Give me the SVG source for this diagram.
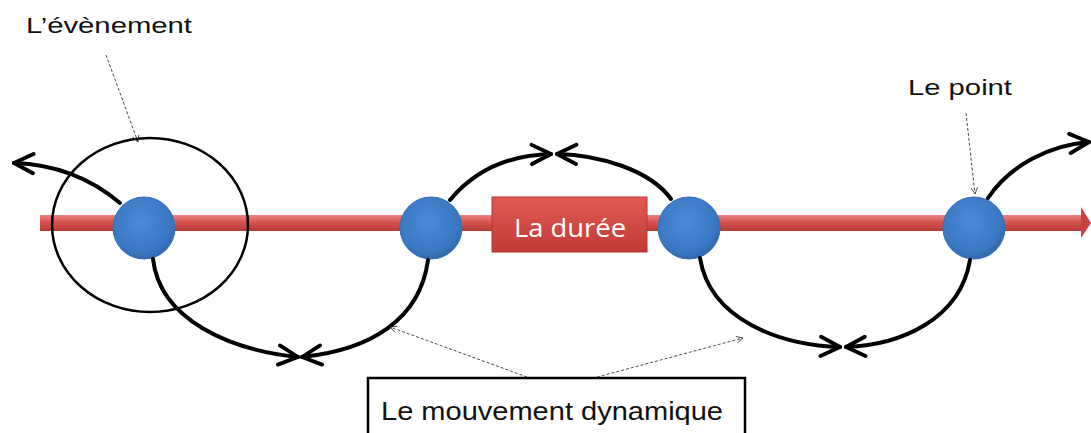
<svg xmlns="http://www.w3.org/2000/svg" width="1091" height="433" viewBox="0 0 1091 433">
<defs>
<linearGradient id="barG" x1="0" y1="0" x2="0" y2="1">
<stop offset="0" stop-color="#e98585"/>
<stop offset="0.45" stop-color="#d9534f"/>
<stop offset="1" stop-color="#b23a36"/>
</linearGradient>
<radialGradient id="nodeG" cx="0.45" cy="0.4" r="0.6">
<stop offset="0" stop-color="#4a8ad8"/>
<stop offset="0.8" stop-color="#3b78c4"/>
<stop offset="1" stop-color="#2f68ad"/>
</radialGradient>
<linearGradient id="boxG" x1="0" y1="0" x2="0" y2="1">
<stop offset="0" stop-color="#e05a55"/>
<stop offset="1" stop-color="#c23b37"/>
</linearGradient>
<marker id="thick" viewBox="0 0 10 10" markerWidth="6" markerHeight="6" refX="9" refY="5" orient="auto" markerUnits="strokeWidth">
<path d="M1,1 L9,5 L1,9" fill="none" stroke="#000" stroke-width="1.6" stroke-linecap="round" stroke-linejoin="round"/>
</marker>
<marker id="thin" viewBox="0 0 10 10" markerWidth="9" markerHeight="9" refX="9" refY="5" orient="auto" markerUnits="strokeWidth">
<path d="M1,1 L9,5 L1,9" fill="none" stroke="#333" stroke-width="1"/>
</marker>
<style>
.curve{fill:none;stroke:#000;stroke-width:4;stroke-linecap:round;marker-end:url(#thick)}
.pointer{fill:none;stroke:#333;stroke-width:0.9;stroke-dasharray:3 2;marker-end:url(#thin)}
.lbl{font-family:"Liberation Sans",Arial,sans-serif;fill:#111}
.node{fill:url(#nodeG);stroke:#3470b8;stroke-width:1}
</style>
</defs>
<rect width="1091" height="433" fill="#fff"/>
<g id="timeline">
<rect x="40" y="215" width="1043" height="16" fill="url(#barG)"/>
<polygon points="1081,207 1091,223 1081,238" fill="#c9443f"/>
</g>
<g id="event-ellipse">
<ellipse cx="150" cy="225" rx="98" ry="87" fill="none" stroke="#000" stroke-width="2.5"/>
</g>
<g id="duree">
<rect x="492" y="197" width="155" height="55" fill="url(#boxG)" stroke="#b33" stroke-width="1"/>
<text x="570" y="237" text-anchor="middle" font-family="'Open Sans','Liberation Sans',sans-serif" font-size="25" fill="#fff" textLength="112" lengthAdjust="spacingAndGlyphs">La durée</text>
</g>
<g id="node1"><circle class="node" cx="144" cy="228" r="31"/></g>
<g id="node2"><circle class="node" cx="431" cy="228" r="31"/></g>
<g id="node3"><circle class="node" cx="689" cy="228" r="31"/></g>
<g id="node4"><circle class="node" cx="974" cy="228" r="31"/></g>
<g id="label-evenement"><text class="lbl" x="26" y="33" font-size="22" textLength="166" lengthAdjust="spacingAndGlyphs">L’évènement</text></g>
<g id="label-point"><text class="lbl" x="908" y="95" font-size="22" textLength="104" lengthAdjust="spacingAndGlyphs">Le point</text></g>
<g id="label-mouvement">
<rect x="368" y="378" width="377" height="60" fill="#fff" stroke="#000" stroke-width="2.5"/>
<text class="lbl" x="381" y="420" font-size="26" textLength="342" lengthAdjust="spacingAndGlyphs" fill="#222">Le mouvement dynamique</text>
</g>
<g id="connectors">
<path class="curve" d="M120,203 Q75,165 14,163"/>
<path class="curve" d="M153,259 C160,320 230,350 298,357"/>
<path class="curve" d="M428,260 C420,320 370,350 302,357"/>
<path class="curve" d="M450,200 C475,170 510,155 551,154"/>
<path class="curve" d="M671,199 C650,170 600,155 557,154"/>
<path class="curve" d="M700,258 C710,320 780,345 840,347"/>
<path class="curve" d="M970,260 C960,320 900,345 846,347"/>
<path class="curve" d="M988,198 C1010,165 1050,145 1089,142"/>
<path class="pointer" d="M106,55 L138,142"/>
<path class="pointer" d="M966,113 L975,194"/>
<path class="pointer" d="M527,377 L390,327"/>
<path class="pointer" d="M597,377 L743,338"/>
</g>
</svg>
